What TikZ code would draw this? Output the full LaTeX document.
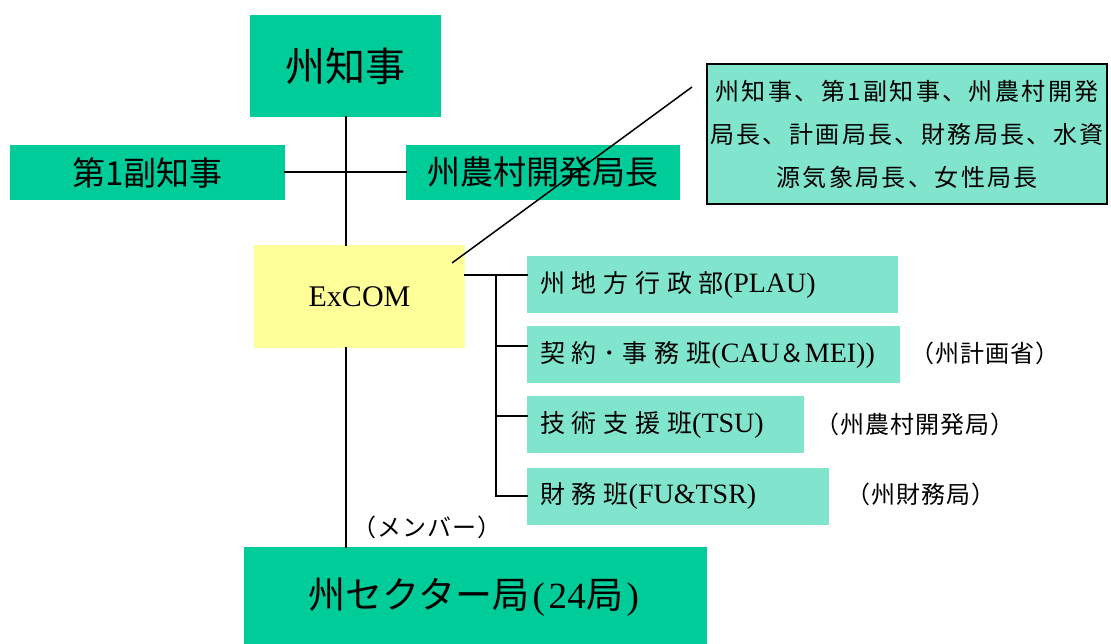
\documentclass[tikz,border=0pt]{standalone}
\usepackage{fontspec}
\setmainfont{Liberation Serif}
\newfontfamily\jp{Noto Sans CJK JP}
\newfontfamily\jpls[LetterSpace=27]{Noto Sans CJK JP}
\newfontfamily\jpm[LetterSpace=10]{Noto Sans CJK JP}
\newfontfamily\jps[LetterSpace=4]{Noto Sans CJK JP}
\newcommand\latn[1]{{\rmfamily\fontsize{28}{30}\selectfont #1}}
\newcommand\hwb[1]{{\rmfamily\fontsize{37}{40}\selectfont\makebox[19pt]{#1}}}
\definecolor{dgreen}{RGB}{0,204,153}
\definecolor{lteal}{RGB}{128,229,204}
\definecolor{lyellow}{RGB}{255,255,153}
\tikzset{
  gbox/.style={fill=dgreen, inner sep=0pt},
  branchbox/.style={fill=lteal, inner xsep=13pt, inner ysep=0pt, text width=#1,
    align=left, minimum height=57, anchor=west, font=\jpls\fontsize{25}{30}\selectfont},
  side/.style={font=\jps\fontsize{24}{28}\selectfont, inner sep=0pt},
  conn/.style={line width=2pt, line cap=rect},
}
\begin{document}
\begin{tikzpicture}[x=1pt,y=-1pt]
\path[use as bounding box] (0,0) rectangle (1111,644);
% boxes
\node[gbox, minimum width=191, minimum height=102, font=\jp\fontsize{40}{48}\selectfont] (gov) at (345.5,66) {州知事};
\node[gbox, minimum width=275, minimum height=55, font=\jp\fontsize{33}{40}\selectfont] (vice) at (147.5,172.5) {第1副知事};
\node[gbox, minimum width=274, minimum height=55, font=\jp\fontsize{33}{40}\selectfont] (rdd) at (543,172.5) {州農村開発局長};
\node[fill=lyellow, inner sep=0pt, minimum width=211, minimum height=103, font=\fontsize{30}{36}\selectfont] (excom) at (359.5,296.5) {ExCOM};
\node[fill=lteal, draw=black, line width=1.5pt, minimum width=400, minimum height=140, inner sep=0pt, align=center, font=\jpm\fontsize{24}{43}\selectfont] (members) at (907,134) {州知事、第1副知事、州農村開発\\局長、計画局長、財務局長、水資\\源気象局長、女性局長};
\node[branchbox=345] (plau) at (527,284.5) {州地方行政部\latn{(PLAU)}};
\node[branchbox=347] (cau) at (527,354.5) {契約･事務班\latn{(CAU}＆\latn{MEI))}};
\node[branchbox=251] (tsu) at (527,424.5) {技術支援班\latn{(TSU)}};
\node[branchbox=276] (fu) at (527,496) {財務班\latn{(FU\&TSR)}};
\node[gbox, minimum width=463, minimum height=100, font=\jp\fontsize{37}{42}\selectfont] (sector) at (475.5,597) {州セクター局\hwb{(}\hwb{2}\hwb{4}局\hwb{)}};
% side labels
\node[side] (plan) at (985,353) {（州計画省）};
\node[side] (rddb) at (915,424) {（州農村開発局）};
\node[side] (fin) at (921,494) {（州財務局）};
\node[side] (mem) at (427,527) {（メンバー）};
% connectors
\draw[conn] (gov.south) -- (gov.south |- excom.north);
\draw[conn] (vice.east) -- (rdd.west);
\draw[conn] (gov.south |- excom.south) -- (gov.south |- sector.north);
\coordinate (d1) at (452,263);
\coordinate (d2) at (692,87);
\draw[line width=1.5pt] (d1) -- (d2);
\coordinate (hub) at (496,275);
\draw[conn] (excom.east |- hub) -- (plau.west |- hub);
\draw[conn] (hub) |- (fu.west);
\draw[conn] (hub |- cau.west) ++(0,-8.5) -- ([yshift=8.5pt]cau.west);
\draw[conn] (hub |- tsu.west) ++(0,-8.5) -- ([yshift=8.5pt]tsu.west);
\end{tikzpicture}
\end{document}
